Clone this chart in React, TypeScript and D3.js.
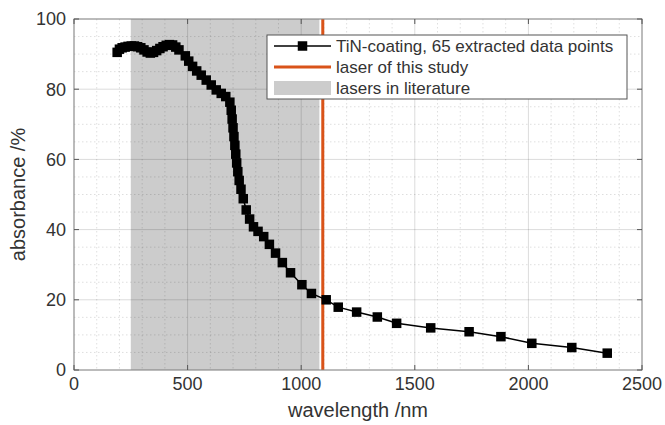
import React from "react";
import * as d3 from "d3";

const wavelengths = [190,200,212,225,238,252,266,280,294,308,322,336,350,364,378,392,406,420,434,448,462,
  490,505,522,540,560,582,604,626,648,668,
  686,692,696,700,704,708,712,716,721,727,735,745,758,773,790,
  810,835,860,887,917,953,1003,1045,1110,
  1163,1244,1335,1420,1570,1739,1879,2015,2191,2347];
const absorbance = [90.5,91.4,91.8,92.0,92.2,92.3,92.3,92.1,91.8,91.2,90.6,90.3,90.5,91.0,91.6,92.1,92.5,92.7,92.6,92.0,91.2,
  89.5,88.0,86.5,85.2,84.0,82.6,81.2,79.8,78.8,77.9,
  76.3,74.0,71.5,69.0,66.5,64.0,61.5,59.0,56.5,54.0,51.5,48.8,45.6,43.0,40.8,
  39.5,38.0,35.8,33.3,30.6,27.7,24.3,21.8,20.0,
  17.9,16.5,15.1,13.3,12.0,10.9,9.5,7.6,6.4,4.8];
const xTicks = [0, 500, 1000, 1500, 2000, 2500];
const yTicks = [0, 20, 40, 60, 80, 100];
const literatureRange = [250, 1080];
const studyLaser = 1095;
const legendLabels = ["TiN-coating, 65 extracted data points", "laser of this study", "lasers in literature"];

const W = 665, H = 425;
const L = 74, R = 642, T = 19, B = 370;
const font = "'Liberation Sans', Arial, Helvetica, sans-serif";
const orange = "#D95319";

export default function App() {
  const x = d3.scaleLinear().domain([0, 2500]).range([L, R]);
  const y = d3.scaleLinear().domain([0, 100]).range([B, T]);
  const xMinor = d3.range(0, 2501, 100).filter(v => v % 500 !== 0);
  const yMinor = d3.range(0, 101, 5).filter(v => v % 20 !== 0);
  const line = d3.line<number>().x((d, i) => x(wavelengths[i])).y(d => y(d));
  const ms = 9.5;
  const lx = 267, ly = 35, lw = 360, lh = 64;
  return (
    <svg width={W} height={H} style={{ position: "absolute", left: 0, top: 0, background: "#fff" }} fontFamily={font}>
      <rect x={L} y={T} width={R - L} height={B - T} fill="#fff" />
      <rect x={x(literatureRange[0])} y={T} width={x(literatureRange[1]) - x(literatureRange[0])} height={B - T} fill="#cccccc" />
      {/* minor grid */}
      {xMinor.map(v => (
        <line key={"xm" + v} x1={x(v)} x2={x(v)} y1={T} y2={B} stroke="#000" strokeOpacity={0.13} strokeWidth={1} strokeDasharray="1.5,2.5" />
      ))}
      {yMinor.map(v => (
        <line key={"ym" + v} x1={L} x2={R} y1={y(v)} y2={y(v)} stroke="#000" strokeOpacity={0.13} strokeWidth={1} strokeDasharray="1.5,2.5" />
      ))}
      {/* major grid */}
      {xTicks.map(v => (
        <line key={"xg" + v} x1={x(v)} x2={x(v)} y1={T} y2={B} stroke="#000" strokeOpacity={0.14} strokeWidth={1} />
      ))}
      {yTicks.map(v => (
        <line key={"yg" + v} x1={L} x2={R} y1={y(v)} y2={y(v)} stroke="#000" strokeOpacity={0.14} strokeWidth={1} />
      ))}
      <line x1={x(studyLaser)} x2={x(studyLaser)} y1={T} y2={B} stroke={orange} strokeWidth={3} />
      <path d={line(absorbance) || ""} fill="none" stroke="#000" strokeWidth={1.5} />
      {absorbance.map((v, i) => (
        <rect key={"m" + i} x={x(wavelengths[i]) - ms / 2} y={y(v) - ms / 2} width={ms} height={ms} fill="#000" />
      ))}
      {/* axes box */}
      <rect x={L} y={T} width={R - L} height={B - T} fill="none" stroke="#8a8a8a" strokeWidth={1} />
      {xTicks.map(v => (
        <g key={"xt" + v}>
          <line x1={x(v)} x2={x(v)} y1={B} y2={B - 5} stroke="#555" />
          <line x1={x(v)} x2={x(v)} y1={T} y2={T + 5} stroke="#555" />
          <text x={x(v)} y={B + 20} textAnchor="middle" fontSize={18} fill="#333">{v}</text>
        </g>
      ))}
      {yTicks.map(v => (
        <g key={"yt" + v}>
          <line x1={L} x2={L + 5} y1={y(v)} y2={y(v)} stroke="#555" />
          <line x1={R} x2={R - 5} y1={y(v)} y2={y(v)} stroke="#555" />
          <text x={L - 8} y={y(v)} dy="0.35em" textAnchor="end" fontSize={18} fill="#333">{v}</text>
        </g>
      ))}
      <text x={(L + R) / 2} y={417} textAnchor="middle" fontSize={20} fill="#333">wavelength /nm</text>
      <text transform={`translate(25,${(T + B) / 2}) rotate(-90)`} textAnchor="middle" fontSize={20} fill="#333">absorbance /%</text>
      {/* legend */}
      <rect x={lx} y={ly} width={lw} height={lh} fill="#fff" stroke="#555" strokeWidth={1} />
      <line x1={lx + 7} x2={lx + 64} y1={ly + 11} y2={ly + 11} stroke="#000" strokeWidth={1.5} />
      <rect x={lx + 35.5 - ms / 2} y={ly + 11 - ms / 2} width={ms} height={ms} fill="#000" />
      <line x1={lx + 7} x2={lx + 64} y1={ly + 32} y2={ly + 32} stroke={orange} strokeWidth={3} />
      <rect x={lx + 7} y={ly + 46} width={57} height={14} fill="#cccccc" />
      {legendLabels.map((t, i) => (
        <text key={t} x={lx + 69} y={ly + 11 + i * 21} dy="0.35em" fontSize={17} fill="#333">{t}</text>
      ))}
    </svg>
  );
}
